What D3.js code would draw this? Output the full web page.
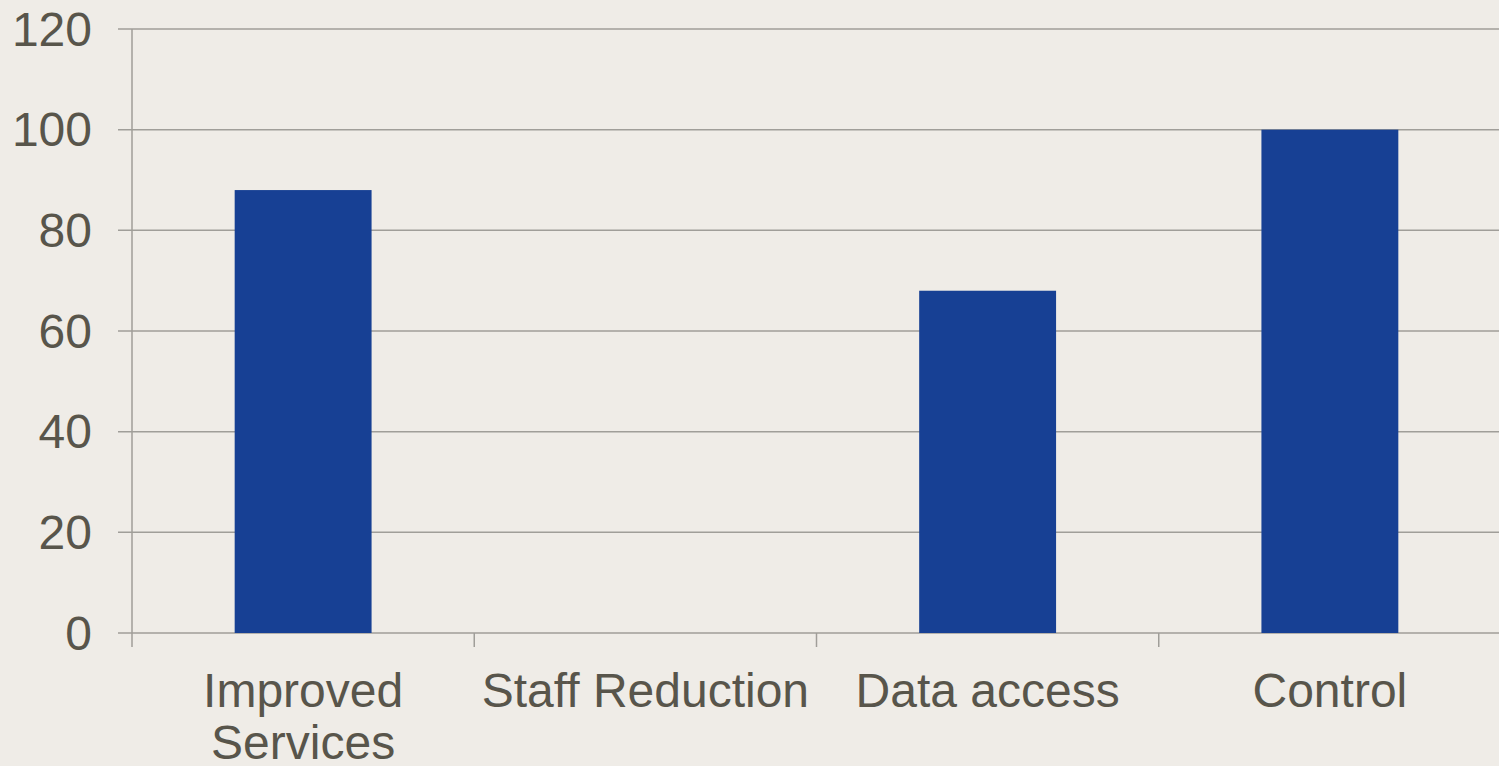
<!DOCTYPE html>
<html>
<head>
<meta charset="utf-8">
<script src="https://cdn.jsdelivr.net/npm/d3@7"></script>
<style>
  html, body { margin: 0; padding: 0; background: #efece7; }
  svg { display: block; }
</style>
</head>
<body>
<div id="container"></div>
<script>
// data
var categories = ["Improved Services", "Staff Reduction", "Data access", "Control"];
var values = [88, 0, 68, 100];
var yTicks = [0, 20, 40, 60, 80, 100, 120];

var W = 1499, H = 766;
var margin = {top: 29, right: -2, bottom: 133, left: 132},
    width = W - margin.left - margin.right,
    height = H - margin.top - margin.bottom;

var textColor = "#58554b",
    lineColor = "#a09e99",
    barColor = "#174094";

var svg = d3.select("#container")
  .append("svg")
  .attr("width", W)
  .attr("height", H)
  .style("font-family", "Liberation Sans, Arial, sans-serif");

svg.append("rect").attr("width", W).attr("height", H).attr("fill", "#efece7");

var g = svg.append("g")
  .attr("transform", "translate(" + margin.left + "," + margin.top + ")");

var x = d3.scaleBand()
  .domain(categories)
  .range([0, width])
  .padding(0);

var y = d3.scaleLinear()
  .domain([0, 120])
  .range([height, 0]);

// grid lines + little ticks on the left
g.append("g")
  .selectAll("line")
  .data(yTicks)
  .enter().append("line")
  .attr("x1", -14)
  .attr("x2", width)
  .attr("y1", function(d) { return y(d); })
  .attr("y2", function(d) { return y(d); })
  .attr("stroke", lineColor)
  .attr("stroke-width", 1.5);

// y labels
g.append("g")
  .selectAll("text")
  .data(yTicks)
  .enter().append("text")
  .attr("x", -40)
  .attr("y", function(d) { return y(d); })
  .attr("dy", "0.35em")
  .attr("text-anchor", "end")
  .attr("font-size", 48)
  .attr("fill", textColor)
  .text(function(d) { return d; });

// bars
var barW = x.bandwidth() * 0.4;
g.append("g")
  .selectAll("rect")
  .data(values)
  .enter().append("rect")
  .attr("x", function(d, i) { return x(categories[i]) + (x.bandwidth() - barW) / 2; })
  .attr("y", function(d) { return y(d); })
  .attr("width", barW)
  .attr("height", function(d) { return y(0) - y(d); })
  .attr("fill", barColor);

// vertical axis line
g.append("line")
  .attr("x1", 0).attr("x2", 0)
  .attr("y1", y(120)).attr("y2", height + 14)
  .attr("stroke", lineColor)
  .attr("stroke-width", 1.5);

// x ticks at band boundaries
g.append("g")
  .selectAll("line")
  .data(categories.slice(1))
  .enter().append("line")
  .attr("x1", function(d) { return x(d); })
  .attr("x2", function(d) { return x(d); })
  .attr("y1", height)
  .attr("y2", height + 14)
  .attr("stroke", lineColor)
  .attr("stroke-width", 1.5);

// x labels, wrapped to the band width
var labels = g.append("g")
  .selectAll("text")
  .data(categories)
  .enter().append("text")
  .attr("x", function(d) { return x(d) + x.bandwidth() / 2; })
  .attr("y", height + 74)
  .attr("text-anchor", "middle")
  .attr("font-size", 48)
  .attr("fill", textColor)
  .text(function(d) { return d; })
  .call(wrap, x.bandwidth());

function wrap(text, w) {
  text.each(function() {
    var t = d3.select(this),
        words = t.text().split(/\s+/),
        cx = t.attr("x"),
        line = [],
        tspan = t.text(null).append("tspan").attr("x", cx),
        lineNo = 0;
    words.forEach(function(word) {
      line.push(word);
      tspan.text(line.join(" "));
      if (tspan.node().getComputedTextLength() > w && line.length > 1) {
        line.pop();
        tspan.text(line.join(" "));
        line = [word];
        lineNo++;
        tspan = t.append("tspan").attr("x", cx).attr("dy", 52).text(word);
      }
    });
  });
}
</script>
</body>
</html>
